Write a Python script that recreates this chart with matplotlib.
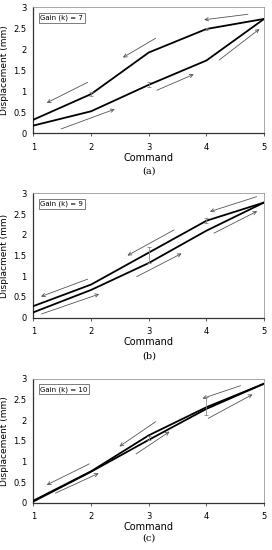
import matplotlib
matplotlib.use("Agg")
import matplotlib.pyplot as plt

commands = [1, 2, 3, 4, 5]
return_cmd = [5, 4, 3, 2, 1]

# Panel (a) gain 7
fwd_a = [0.18, 0.52, 1.15, 1.73, 2.72]
ret_a = [2.72, 2.48, 1.92, 0.93, 0.32]
# Panel (b) gain 9
fwd_b = [0.13, 0.67, 1.32, 2.10, 2.78]
ret_b = [2.78, 2.34, 1.57, 0.80, 0.28]
# Panel (c) gain 10
fwd_c = [0.03, 0.75, 1.52, 2.27, 2.88]
ret_c = [2.88, 2.31, 1.63, 0.76, 0.05]

# error bars: (x, y, err_low, err_high)
err_a = [(2, 0.93, 0.05, 0.05), (3, 1.15, 0.06, 0.06), (4, 2.48, 0.03, 0.03)]
err_b = [(3, 1.57, 0.26, 0.14), (4, 2.34, 0.06, 0.06)]
err_c = [(3, 1.57, 0.05, 0.05), (4, 2.31, 0.19, 0.25)]

# direction arrows: (x_tail, y_tail, x_head, y_head)
arrows_a = [(1.48, 0.10, 2.41, 0.57), (3.14, 1.02, 3.78, 1.40), (4.22, 1.74, 4.92, 2.48),
            (4.72, 2.83, 3.96, 2.70), (3.12, 2.26, 2.55, 1.80), (1.94, 1.21, 1.23, 0.72)]
arrows_b = [(1.14, 0.09, 2.14, 0.57), (2.79, 0.99, 3.57, 1.55), (4.13, 2.04, 4.88, 2.57),
            (4.87, 2.92, 4.06, 2.56), (3.44, 2.12, 2.63, 1.50), (1.94, 0.93, 1.13, 0.51)]
arrows_c = [(1.38, 0.23, 2.13, 0.71), (2.78, 1.18, 3.36, 1.72), (4.03, 2.04, 4.80, 2.62),
            (4.59, 2.83, 3.93, 2.52), (3.12, 1.96, 2.49, 1.36), (1.97, 0.94, 1.23, 0.43)]

ylabels = ["Displacement (mm)", "Displacment (mm)", "Displacement (mm)"]
gains = ["Gain (k) = 7", "Gain (k) = 9", "Gain (k) = 10"]
letters = ["(a)", "(b)", "(c)"]
xticks = [1, 2, 3, 4, 5]
yticks = [0, 0.5, 1, 1.5, 2, 2.5, 3]
ytick_labels = ["0", "0.5", "1", "1.5", "2", "2.5", "3"]

fig = plt.figure(figsize=(2.72, 5.5), dpi=100)
rects = [[0.123, 0.758, 0.848, 0.229],
         [0.123, 0.4224, 0.848, 0.226],
         [0.123, 0.086, 0.848, 0.2255]]
letter_y = [0.689, 0.353, 0.022]

panels = [(fwd_a, ret_a, err_a, arrows_a), (fwd_b, ret_b, err_b, arrows_b), (fwd_c, ret_c, err_c, arrows_c)]

for i, (fwd, ret, errs, arrs) in enumerate(panels):
    ax = fig.add_axes(rects[i])
    ax.plot(commands, fwd, color="black", lw=1.3, zorder=3)
    ax.plot(return_cmd, ret, color="black", lw=1.3, zorder=3)
    for (x, y, lo, hi) in errs:
        ax.errorbar([x], [y], yerr=[[lo], [hi]], fmt="none", ecolor="#888888",
                    elinewidth=0.6, capsize=1.5, capthick=0.6, zorder=4)
    for (xt, yt, xh, yh) in arrs:
        ax.annotate("", xy=(xh, yh), xytext=(xt, yt),
                    arrowprops=dict(arrowstyle="->", color="#555555", lw=0.6,
                                    shrinkA=0, shrinkB=0, mutation_scale=6))
    ax.set_xlim(1, 5)
    ax.set_ylim(0, 3)
    ax.set_xticks(xticks)
    ax.set_xticklabels([str(t) for t in xticks])
    ax.set_yticks(yticks)
    ax.set_yticklabels(ytick_labels)
    ax.tick_params(axis="x", labelsize=6, length=2, width=0.6, pad=5, color="#444444")
    ax.tick_params(axis="y", labelsize=6, length=0, pad=5)
    for s in ["top", "right"]:
        ax.spines[s].set_color("#999999")
        ax.spines[s].set_linewidth(0.6)
    for s in ["left", "bottom"]:
        ax.spines[s].set_color("#333333")
        ax.spines[s].set_linewidth(0.9)
    ax.set_xlabel("Command", fontsize=7, labelpad=0.5)
    ax.set_ylabel(ylabels[i], fontsize=6.5, labelpad=3)
    ax.text(0.03, 0.94, gains[i], transform=ax.transAxes, fontsize=5, va="top", ha="left",
            bbox=dict(boxstyle="square,pad=0.25", fc="white", ec="#666666", lw=0.6))
    fig.text(0.123 + 0.848 / 2, letter_y[i], letters[i], fontsize=7,
             family="DejaVu Serif", ha="center", va="center")

fig.savefig("out.png", dpi=100)
